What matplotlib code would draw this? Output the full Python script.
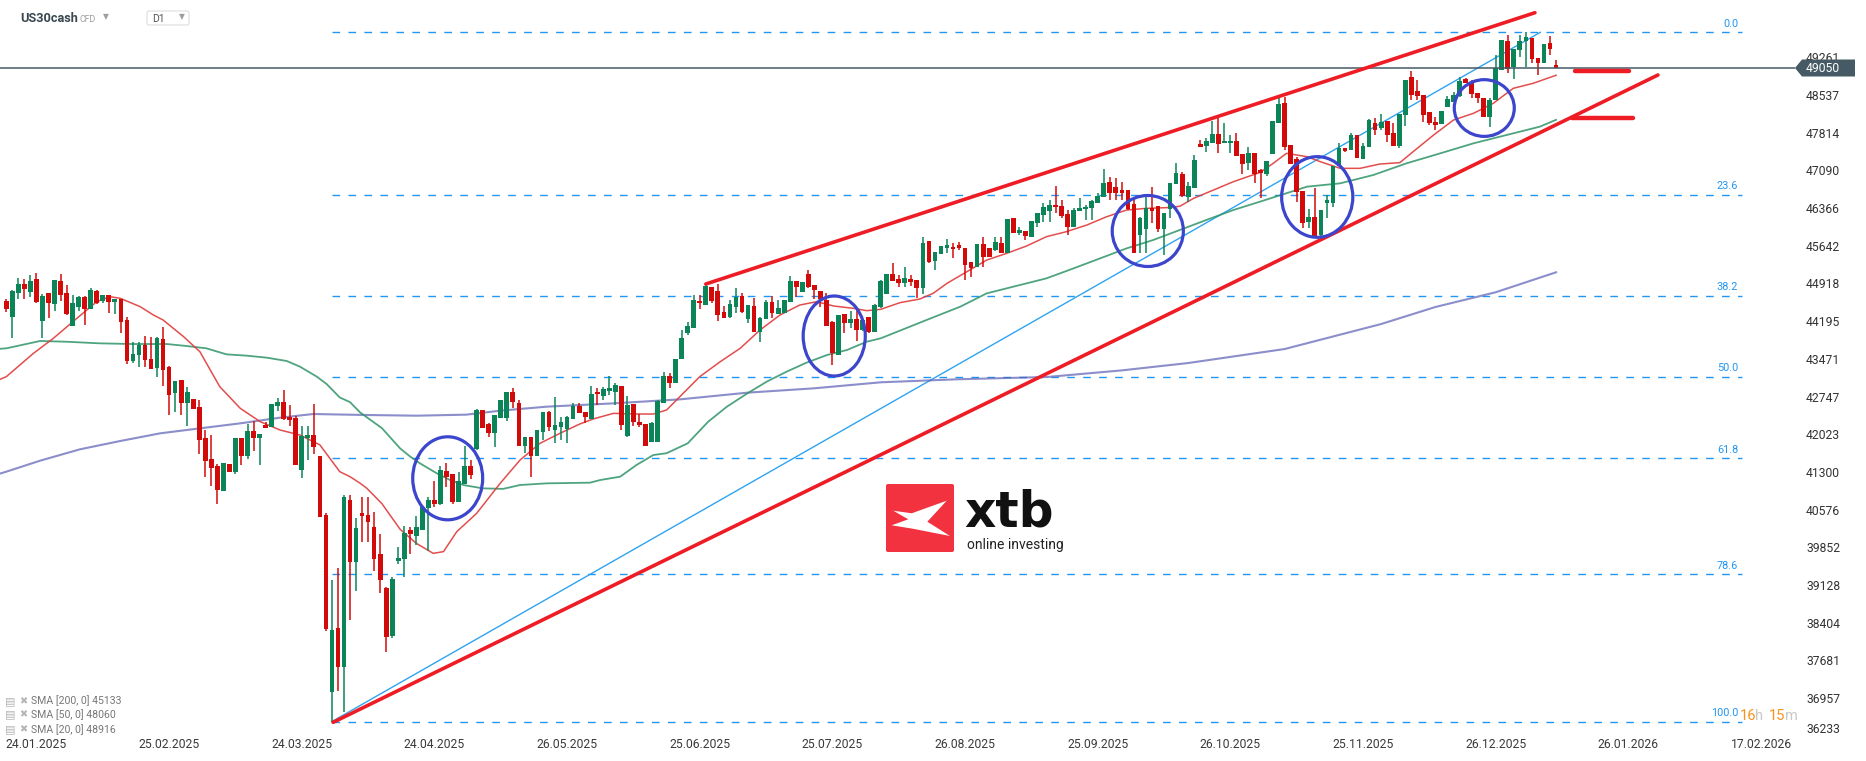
import numpy as np
import matplotlib
matplotlib.use("Agg")
import matplotlib.pyplot as plt
from matplotlib.patches import Ellipse, Polygon, FancyBboxPatch

plt.rcParams['font.family'] = ['Roboto', 'DejaVu Sans']
plt.rcParams['lines.scale_dashes'] = False

#%% daily candles (bar index 0 = 16.01.2025)
opens = [44582, 44281, 44742, 44908, 44761, 45004, 44204, 44735, 44531, 44959,
         44735, 44108, 44473, 44659, 44428, 44774, 44588, 44697, 44569, 44620,
         44223, 43436, 43551, 43737, 43475, 43302, 43852, 43321, 42822, 43065,
         42630, 42707, 42553, 41958, 41555, 41420, 40940, 41459, 41305, 41958,
         41612, 42092, 41958, 42207, 42169, 42572, 42649, 42361, 42342, 41344,
         41958, 42015, 41612, 40473, 37081, 38303, 37561, 40761, 39577, 40511,
         40473, 40249, 39724, 39065, 38150, 39596, 39628, 40185, 40076, 40185,
         40601, 40761, 40684, 41318, 41254, 40723, 41068, 41414, 41740, 42489,
         42220, 42041, 42329, 42329, 42841, 42630, 41804, 41964, 41606, 42073,
         42444, 42105, 42169, 42118, 42316, 42572, 42457, 42316, 42841, 42764,
         42860, 42841, 42956, 41990, 42598, 42252, 42214, 41881, 41881, 42617,
         43142, 43001, 43468, 43961, 44070, 44582, 44505, 44857, 44774, 44364,
         44281, 44473, 44678, 44230, 44486, 43993, 44230, 44569, 44326, 44345,
         44569, 44966, 44761, 45100, 44889, 44780, 44601, 44185, 43545, 44326,
         44153, 44236, 44025, 44281, 43993, 44473, 44716, 45094, 44998, 44934,
         45004, 44985, 44838, 45734, 45356, 45478, 45606, 45625, 45657, 45606,
         45337, 45241, 45676, 45606, 45561, 45702, 45497, 46169, 45894, 45926,
         45817, 46086, 46233, 46316, 46425, 46406, 46246, 46009, 46316, 46342,
         46374, 46470, 46572, 46873, 46764, 46713, 46713, 46444, 45849, 45958,
         46374, 46406, 45958, 46342, 46822, 47020, 46572, 46758, 47596, 47564,
         47622, 47782, 47609, 47609, 47660, 47398, 47225, 47430, 47097, 47014,
         47398, 47993, 48377, 47577, 47302, 46694, 46105, 46201, 45849, 46470,
         46470, 47180, 47526, 47481, 47769, 47302, 47545, 47993, 47897, 48038,
         47801, 47558, 48153, 48876, 48614, 48537, 48217, 48025, 47980, 48300,
         48409, 48524, 48838, 48774, 48582, 48486, 48121, 48441, 49017, 49574,
         49081, 49401, 49574, 49625, 49241, 49145, 49529, 49113]
highs = [44620, 44793, 45030, 45004, 45081, 45119, 44716, 44735, 44985, 45107,
         44889, 44697, 44678, 44678, 44831, 44793, 44697, 44697, 44620, 44620,
         44281, 43795, 43795, 43910, 43891, 43891, 44083, 43340, 43052, 43065,
         42937, 42707, 42688, 42111, 42015, 41459, 41478, 41459, 41958, 41958,
         42227, 42284, 42035, 42265, 42611, 42726, 42880, 42591, 42380, 42188,
         42188, 42611, 41612, 40505, 39225, 39449, 40857, 40857, 40409, 40812,
         40812, 40537, 40108, 39097, 39289, 39865, 40268, 40249, 40454, 40633,
         40825, 41132, 41414, 41471, 41254, 41305, 41798, 41529, 42508, 42489,
         42246, 42393, 42681, 42841, 42905, 42681, 41977, 41964, 42105, 42444,
         42476, 42745, 42361, 42374, 42617, 42617, 42457, 42956, 42905, 42937,
         43148, 43001, 42956, 42764, 42598, 42406, 42214, 42252, 42681, 43225,
         43193, 43468, 44025, 44185, 44697, 44697, 44921, 44857, 44902, 44486,
         44601, 44825, 44729, 44505, 44633, 44281, 44601, 44678, 44601, 44601,
         45062, 44966, 44953, 45177, 44889, 44780, 44742, 44198, 44313, 44326,
         44396, 44422, 44230, 44281, 44518, 44985, 45094, 45305, 45081, 45241,
         45081, 44985, 45804, 45734, 45516, 45638, 45779, 45689, 45720, 45606,
         45337, 45676, 45817, 45606, 45804, 45817, 46156, 46169, 46009, 45926,
         46118, 46278, 46457, 46521, 46790, 46521, 46329, 46361, 46553, 46425,
         46521, 46649, 47110, 46956, 46937, 46873, 46713, 46585, 46201, 46572,
         46764, 46406, 46278, 46854, 47225, 47052, 46873, 47385, 47673, 47705,
         48040, 48100, 48000, 47769, 47801, 47398, 47545, 47430, 47110, 47276,
         48038, 48505, 48505, 47577, 47353, 46694, 46342, 46745, 46329, 46617,
         47180, 47609, 47526, 47801, 47769, 47622, 48070, 48102, 48172, 48038,
         47993, 48172, 48825, 48998, 48825, 48537, 48217, 48121, 48230, 48518,
         48601, 48876, 48857, 48825, 48582, 48486, 48473, 49305, 49593, 49689,
         49414, 49689, 49740, 49625, 49241, 49516, 49670, 49209]
lows = [44377, 43878, 44627, 44627, 44665, 44550, 43878, 44262, 44396, 44582,
        44319, 44108, 44396, 44128, 44428, 44524, 44550, 44358, 44339, 43974,
        43379, 43398, 43321, 43321, 43283, 43129, 42956, 42399, 42457, 42399,
        42188, 42515, 41651, 41209, 41036, 40691, 40940, 41305, 41267, 41440,
        41555, 41708, 41440, 42150, 42169, 42476, 42303, 42188, 41440, 41190,
        41535, 41651, 40441, 38252, 36505, 37100, 36697, 38457, 39020, 39961,
        39961, 39404, 38969, 37849, 38105, 39526, 39276, 39724, 39897, 40185,
        39788, 40633, 40665, 41017, 40691, 40723, 41068, 41158, 41721, 42150,
        41977, 41785, 42329, 42284, 42521, 41804, 41657, 41196, 41606, 41913,
        42092, 41849, 41913, 41862, 42316, 42438, 42233, 42316, 42585, 42681,
        42777, 42585, 42105, 41964, 42182, 42169, 41804, 41881, 41881, 42617,
        42905, 43001, 43468, 43929, 44057, 44422, 44505, 44537, 44204, 44262,
        44262, 44358, 44345, 44153, 43993, 43801, 44230, 44249, 44326, 44345,
        44569, 44665, 44761, 44825, 44620, 44473, 44102, 43353, 43545, 43974,
        44057, 43820, 44000, 43960, 43980, 44450, 44716, 44966, 44857, 44857,
        44870, 44633, 44716, 45305, 45177, 45478, 45497, 45401, 45570, 44985,
        45049, 45230, 45241, 45433, 45540, 45497, 45497, 45881, 45850, 45753,
        45817, 46009, 46105, 46105, 46278, 46169, 45849, 46009, 46316, 46137,
        46137, 46457, 46572, 46521, 46521, 46521, 46329, 45497, 45510, 45510,
        46086, 45913, 45465, 46169, 46822, 46572, 46489, 46758, 47545, 47449,
        47622, 47417, 47609, 47417, 47372, 47020, 47100, 46841, 46553, 46990,
        47398, 47993, 47481, 47206, 46489, 45977, 45977, 45785, 45817, 46169,
        46393, 47180, 47449, 47481, 47334, 47302, 47545, 47769, 47865, 47641,
        47558, 47513, 47942, 48441, 48441, 48025, 47961, 47865, 47980, 48300,
        48409, 48505, 48761, 48473, 48377, 48121, 47916, 48441, 49017, 48966,
        48838, 49273, 49081, 49145, 48921, 49145, 49305, 49049]
closes = [44428, 44774, 44908, 44819, 44966, 44569, 44678, 44550, 44985, 44703,
          44339, 44543, 44659, 44428, 44793, 44543, 44697, 44569, 44620, 44185,
          43436, 43571, 43737, 43455, 43283, 43871, 43263, 42783, 43052, 42630,
          42841, 42515, 41919, 41516, 41382, 40959, 41478, 41305, 41958, 41612,
          42092, 41958, 42035, 42150, 42611, 42649, 42323, 42303, 41440, 41996,
          42015, 41785, 40441, 38291, 38265, 37548, 40825, 39577, 40217, 40454,
          40345, 39628, 39225, 38137, 39244, 39641, 40121, 40108, 40236, 40633,
          40761, 40684, 41337, 41209, 40723, 41120, 41414, 41241, 42489, 42150,
          42041, 42393, 42681, 42841, 42649, 41804, 41977, 41606, 42105, 42444,
          42156, 42201, 42265, 42361, 42572, 42438, 42348, 42790, 42790, 42892,
          42918, 42969, 42201, 42585, 42252, 42201, 41804, 42233, 42662, 43142,
          43014, 43468, 43878, 44102, 44601, 44537, 44870, 44582, 44313, 44262,
          44518, 44665, 44377, 44505, 43993, 44262, 44569, 44345, 44441, 44601,
          44966, 44857, 44953, 44857, 44793, 44614, 44102, 43577, 44313, 44153,
          44236, 44025, 44217, 43993, 44505, 44966, 45094, 44966, 44921, 45017,
          44953, 44838, 45689, 45337, 45516, 45638, 45657, 45574, 45606, 45273,
          45222, 45676, 45433, 45433, 45708, 45497, 46156, 45881, 45945, 45830,
          46118, 46265, 46380, 46425, 46380, 46220, 46009, 46329, 46361, 46393,
          46502, 46598, 46854, 46662, 46662, 46662, 46342, 45497, 46169, 46374,
          46316, 45958, 46278, 46854, 47033, 46598, 46790, 47289, 47545, 47660,
          47782, 47596, 47654, 47660, 47372, 47212, 47430, 47020, 47033, 47276,
          48038, 48358, 47545, 47206, 46681, 46073, 46201, 45804, 46329, 46521,
          47180, 47513, 47462, 47769, 47334, 47558, 48057, 47865, 48012, 47769,
          47558, 48172, 48825, 48537, 48518, 48153, 47993, 47961, 48230, 48460,
          48537, 48812, 48761, 48556, 48473, 48121, 48441, 49062, 49593, 49030,
          49414, 49574, 49644, 49222, 49145, 49516, 49414, 49055]

#%% moving averages (bar index, price)
sma20_x = [-1, 0, 4.5, 7.8, 11.7, 15, 17.2, 18.9, 22.2, 24.4, 26, 29.4, 32.1, 35.4, 38.8, 42.1,
           45.4, 48.7, 52, 55.3, 57, 58.7, 59.8, 62.3, 65.3, 68, 70.8, 72.5, 74.7, 78, 81.9,
           85.2, 88.5, 91.8, 95.1, 97.3, 100.7, 104, 107.3, 109.5, 111.7, 115, 118.4, 121.7,
           125, 128.3, 131.6, 134.4, 137.2, 140.5, 142.7, 145, 148.2, 151.5, 153.7, 156,
           159.3, 162.6, 165.9, 169.2, 172.5, 175.8, 179.2, 182.5, 185.8, 189.1, 192.4,
           194.6, 196.9, 200.2, 203.5, 207.9, 210.1, 212.3, 215.7, 217.9, 221.2, 224.5,
           227.8, 231.1, 233.3, 236.7, 240, 243.3, 246.6, 249.9, 253.2, 257]
sma20_y = [43080, 43129, 43577, 43865, 44249, 44569, 44665, 44633, 44473, 44313, 44217, 43897,
           43609, 42937, 42521, 42265, 42105, 42009, 41820, 41305, 41209, 41081, 40985, 40690,
           40200, 39929, 39737, 39770, 40153, 40505, 41081, 41529, 41849, 42041, 42220, 42316,
           42425, 42412, 42412, 42489, 42745, 43129, 43417, 43673, 44025, 44313, 44505, 44569,
           44486, 44441, 44396, 44422, 44550, 44620, 44729, 44921, 45145, 45369, 45497, 45638,
           45817, 45913, 46041, 46201, 46329, 46361, 46374, 46400, 46553, 46713, 46873, 47050,
           47225, 47417, 47353, 47257, 47129, 47129, 47212, 47238, 47449, 47769, 48057, 48185,
           48377, 48665, 48761, 48916]
sma50_x = [-1, 0, 5.6, 10, 15.5, 21, 26.6, 29.9, 33.2, 36.5, 39.9, 43.2, 46.5, 48.7, 51.5,
           53.1, 55.3, 57, 58.7, 62.3, 65.3, 67, 68.6, 71.4, 73.5, 75.8, 79, 82.4, 85.2, 89.6,
           96.8, 98.5, 101.8, 104.5, 107.3, 109.5, 113, 116.4, 119.5, 122.9, 126.1, 129.4,
           132.7, 136.1, 139.4, 142.7, 145, 152.6, 158.2, 162.6, 167, 172.5, 177, 181.4,
           185.8, 190.2, 194.6, 199, 203.5, 207.9, 215.7, 221.2, 226.7, 232.2, 237.8, 243.3,
           248.8, 254.3, 257]
sma50_y = [43665, 43673, 43814, 43800, 43769, 43756, 43756, 43718, 43673, 43558, 43532, 43494,
           43430, 43321, 43129, 42990, 42730, 42640, 42440, 42140, 41753, 41593, 41465, 41273,
           41150, 41049, 40985, 40975, 41049, 41081, 41094, 41145, 41209, 41433, 41625, 41660,
           41849, 42265, 42553, 42809, 43033, 43225, 43398, 43545, 43641, 43801, 43865, 44217,
           44473, 44729, 44857, 45017, 45209, 45401, 45593, 45753, 45945, 46137, 46329, 46489,
           46777, 46841, 47001, 47225, 47417, 47609, 47769, 47929, 48060]
sma200_x = [-1, 0, 5.6, 12.2, 18.9, 25.5, 32.1, 38.8, 45.4, 50.9, 59.8, 68.1, 76.3, 81.9, 89.6,
            100.7, 111.7, 122.9, 133.9, 145, 158, 172.6, 185, 196, 212, 228, 237, 247, 257]
sma200_y = [41270, 41305, 41516, 41734, 41894, 42041, 42137, 42233, 42342, 42412, 42393, 42380,
            42400, 42476, 42553, 42617, 42693, 42822, 42905, 43021, 43080, 43123, 43250, 43391,
            43660, 44140, 44467, 44750, 45133]

#%% drawings: fibo, channel, marks
fib_high = 49741
fib_low = 36505
fib_levels = [0.0, 23.6, 38.2, 50.0, 61.8, 78.6, 100.0]
fib_span = [54.0, 287.8]
upper_line = [(116.0, 44908), (253.5, 50117)]
lower_line = [(54.2, 36493), (273.9, 48921)]
fib_trend = [(53.97, 36505), (254.4, 49741)]
red_marks = [((260.1, 269.1), 48998), ((259.7, 269.8), 48090)]
circles = [(73.2, 41178, 11.6, 1594), (137.3, 43910, 10.3, 1536), (189.3, 45926, 11.8, 1363),
           (217.4, 46579, 11.8, 1549), (245.1, 48287, 9.95, 1089)]

last_price = 49050
price_ticks = [49261, 48537, 47814, 47090, 46366, 45642, 44918, 44195, 43471, 42747,
               42023, 41300, 40576, 39852, 39128, 38404, 37681, 36957, 36233]
date_pos = [5, 27, 49, 71, 93, 115, 137, 159, 181, 203, 225, 247, 269, 291]
date_labels = ['24.01.2025', '25.02.2025', '24.03.2025', '24.04.2025', '26.05.2025',
               '25.06.2025', '25.07.2025', '26.08.2025', '25.09.2025', '26.10.2025',
               '25.11.2025', '26.12.2025', '26.01.2026', '17.02.2026']
sma_legend = ['SMA [200, 0] 45133', 'SMA [50, 0] 48060', 'SMA [20, 0] 48916']

W, H = 1866, 761
UP, DOWN = '#0b8457', '#d20a0a'

fig = plt.figure(figsize=(W / 100, H / 100), dpi=100)
fig.patch.set_facecolor('white')
ax = fig.add_axes([0, 24 / H, 1795 / W, 737 / H])
ax.set_xlim(-1.045, 296.63)
ax.set_ylim(36211, 50361)
for s in ax.spines.values():
    s.set_visible(False)

# fib retracement
fib_prices = [fib_high - (fib_high - fib_low) * lv / 100 for lv in fib_levels]
for lv, fp in zip(fib_levels, fib_prices):
    ax.plot(fib_span, [fp, fp], color='#2196f3', lw=1.0, ls=(0, (5.5, 6.0)), zorder=1)
    ax.text(287.2, fp + 165, f"{lv:.1f}", ha='right', va='center', fontsize=7.8,
            color='#2196f3', zorder=6)
ax.plot(*zip(*fib_trend), color='#2ea3f2', lw=1.0, zorder=2)

# SMAs
ax.plot(sma200_x, sma200_y, color='#5a5fb5', lw=1.5, alpha=0.7, zorder=2)
ax.plot(sma50_x, sma50_y, color='#2f9468', lw=1.3, alpha=0.85, zorder=2)
ax.plot(sma20_x, sma20_y, color='#e03a3a', lw=1.1, alpha=0.9, zorder=2)

# candles
idx = np.arange(len(closes))
o, hi, lo, c = map(np.asarray, (opens, highs, lows, closes))
cols = np.where(c >= o, UP, DOWN)
ax.vlines(idx, lo, hi, colors=cols, lw=1.1, zorder=3)
body = np.maximum(np.abs(c - o), 15)
ax.bar(idx, body, bottom=np.minimum(o, c), width=0.78, color=cols, lw=0, zorder=4)

# current price line
ax.axhline(last_price, color='#455a64', lw=1.1, zorder=5)

# channel
ax.plot(*zip(*upper_line), color='#ee1c25', lw=2.6, solid_capstyle='round', zorder=6)
ax.plot(*zip(*lower_line), color='#ee1c25', lw=2.6, solid_capstyle='round', zorder=6)
for (x0, x1), p in red_marks:
    ax.plot([x0, x1], [p, p], color='#ee1c25', lw=3.2, solid_capstyle='round', zorder=6)
for cx, cy, w, h in circles:
    ax.add_patch(Ellipse((cx, cy), w, h, fill=False, ec='#3c46cc', lw=2.3, zorder=7))

# axes ticks
ax.yaxis.tick_right()
ax.set_yticks(price_ticks)
ax.set_yticklabels([str(t) for t in price_ticks])
ax.tick_params(axis='y', length=0, pad=8, labelsize=8.7, labelcolor='#333333')
ax.get_yticklabels()[-1].set_va('bottom')
ax.set_xticks(date_pos)
ax.set_xticklabels(date_labels)
ax.tick_params(axis='x', length=0, pad=0.5, labelsize=8.7, labelcolor='#3a3a3a')

#%% overlay in pixel space
ov = fig.add_axes([0, 0, 1, 1], zorder=5)
ov.set_xlim(0, W)
ov.set_ylim(H, 0)
ov.axis('off')
ov.patch.set_alpha(0)

# header
ov.text(20, 18, 'US30cash', fontsize=9.2, fontweight='bold', color='#3a4750', va='center')
ov.text(80, 19, 'CFD', fontsize=6.3, color='#9e9e9e', va='center')
ov.text(103, 17, '\u25bc', fontsize=5.5, color='#9e9e9e', va='center',
        family=['DejaVu Sans'])
ov.add_patch(FancyBboxPatch((147, 11), 42, 14, boxstyle='round,pad=0,rounding_size=2',
                            fc='white', ec='#dddddd', lw=0.8))
ov.text(152, 19, 'D1', fontsize=7.5, color='#555555', va='center')
ov.text(179, 17, '\u25bc', fontsize=5.5, color='#9e9e9e', va='center',
        family=['DejaVu Sans'])

# last price tag
ov.add_patch(Polygon([(1795, 68), (1802, 59.5), (1855, 59.5), (1855, 76.5), (1802, 76.5)],
                     closed=True, fc='#455a64', ec='none'))
ov.text(1806, 68.5, str(last_price), fontsize=8.7, color='white', va='center')

# countdown
ov.text(1740, 716, '16', fontsize=10.5, color='#f7931e', va='center')
ov.text(1755.5, 716, 'h', fontsize=10.5, color='#c8c8c8', va='center')
ov.text(1769, 716, '15', fontsize=10.5, color='#f7931e', va='center')
ov.text(1784.5, 716, 'm', fontsize=10.5, color='#c8c8c8', va='center')

# sma legend
for k, lab in enumerate(sma_legend):
    yy = [701, 714.5, 729.5][k]
    ov.text(5, yy, '\u25a4', fontsize=8, color='#b5b5b5', va='center',
            family=['DejaVu Sans'])
    ov.text(19, yy, '\u2716', fontsize=7, color='#b5b5b5', va='center',
            family=['DejaVu Sans'])
    ov.text(31, yy, lab, fontsize=7.6, color='#777777', va='center')

# xtb logo
ov.add_patch(FancyBboxPatch((886, 484), 68, 68, boxstyle='round,pad=0,rounding_size=2',
                            fc='#f2333f', ec='none'))
ov.add_patch(Polygon([(893.3, 510.7), (911.7, 513.3), (946.7, 500.7), (927.3, 521.7),
                      (950, 536), (912.7, 528.7), (891.7, 525.3), (908.3, 519.3)],
                     closed=True, fc='white', ec='none'))
ov.text(964, 526.5, 'xtb', fontsize=35, fontweight='bold', color='#111111',
        va='baseline', family=['DejaVu Sans'])
ov.text(967, 549.5, 'online investing', fontsize=10, color='#222222', va='baseline')

fig.savefig('out.png', dpi=100)
